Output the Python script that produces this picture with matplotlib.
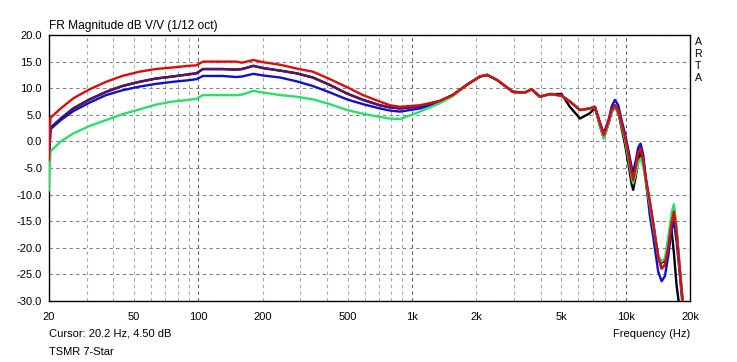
import matplotlib
matplotlib.use("Agg")
import matplotlib.pyplot as plt

plt.rcParams['font.family'] = ['Liberation Sans', 'DejaVu Sans']

# frequency points (Hz)
freq = [20, 20.3, 22.7, 26, 31, 37, 44, 53, 63, 76,
        90, 98, 105, 130, 150, 160, 181, 200, 242, 288,
        344, 413, 496, 590, 706, 788, 880, 1090,
        1350, 1550, 1800, 2080, 2250, 2510, 2970, 3380, 3630, 3970,
        4420, 5010, 5480, 6110, 6800, 7180, 7570, 7900, 8350, 8590,
        8900, 9230, 9570, 9920, 10280, 10660, 10840, 11160, 11440, 11740,
        12080, 12530, 12980, 13460, 14200, 14730, 15270, 15820, 16400, 16820,
        17300, 17820, 18280, 18580, 20000]

red = [-3.5, 4.4, 6.2, 8.1, 9.8, 11.2, 12.3, 13.1, 13.6, 13.9,
       14.2, 14.3, 15.0, 15.0, 15.0, 14.8, 15.3, 14.9, 14.4, 13.7,
       13.1, 11.7, 10.2, 8.7, 7.5, 6.8, 6.5, 6.8,
       7.6, 8.7, 10.6, 12.2, 12.5, 11.5, 9.3, 9.2, 9.8, 8.4,
       8.9, 8.6, 7.5, 5.9, 6.2, 6.5, 3.4, 1.2, 4.0, 5.9,
       6.8, 5.9, 3.4, 0.9, -2.2, -6.0, -7.3, -4.7, -2.2, -1.3,
       -3.5, -7.9, -11.4, -15.4, -21.7, -23.9, -23.2, -19.8, -15.4, -13.2,
       -16.7, -22.9, -27.9, -31.0, -45.0]

purple = [-3.5, 2.5, 4.3, 6.2, 7.9, 9.3, 10.4, 11.2, 11.8, 12.2,
          12.6, 12.8, 13.6, 13.6, 13.5, 13.6, 14.2, 13.8, 13.3, 12.8,
          12.0, 10.6, 9.0, 7.8, 6.8, 6.4, 6.2, 6.6,
          7.6, 8.7, 10.6, 12.2, 12.5, 11.5, 9.3, 9.2, 9.8, 8.4,
          8.9, 8.6, 7.5, 5.9, 6.2, 6.5, 3.4, 1.2, 4.0, 5.9,
          6.8, 5.9, 3.4, 0.9, -2.2, -6.0, -7.3, -4.7, -2.2, -1.3,
          -3.5, -7.9, -11.4, -15.4, -21.7, -23.9, -23.2, -19.8, -15.4, -13.2,
          -16.7, -22.9, -27.9, -31.0, -45.0]

blue = [-3.5, 2.3, 4.0, 5.7, 7.3, 8.7, 9.6, 10.3, 10.8, 11.2,
        11.5, 11.7, 12.3, 12.3, 12.1, 12.2, 12.7, 12.4, 12.0, 11.3,
        10.4, 9.2, 7.9, 7.0, 6.2, 5.8, 5.6, 6.2,
        7.4, 8.6, 10.6, 12.2, 12.5, 11.5, 9.3, 9.2, 9.8, 8.4,
        8.9, 8.6, 7.5, 5.9, 6.2, 6.5, 3.6, 1.5, 4.3, 6.5,
        7.8, 6.8, 4.0, 1.5, -1.5, -4.8, -5.7, -3.5, -1.2, -0.4,
        -2.5, -8.5, -14.0, -18.0, -24.5, -26.3, -25.3, -21.5, -16.5, -15.1,
        -18.8, -24.0, -29.0, -32.0, -45.0]

green = [-9.2, -1.9, 0.0, 1.5, 2.9, 4.0, 5.1, 6.0, 6.9, 7.5,
         7.8, 8.0, 8.7, 8.7, 8.7, 8.8, 9.5, 9.2, 8.7, 8.4,
         7.9, 7.0, 5.9, 5.2, 4.6, 4.3, 4.2, 5.6,
         7.2, 8.5, 10.6, 12.2, 12.6, 11.5, 9.3, 9.2, 9.8, 8.4,
         8.9, 8.6, 7.5, 5.9, 6.2, 6.4, 3.0, 0.6, 3.6, 5.8,
         6.6, 5.7, 3.0, 0.3, -3.0, -6.8, -7.9, -6.0, -4.0, -3.2,
         -4.8, -8.5, -12.0, -16.0, -21.5, -22.6, -22.0, -18.0, -13.5, -11.8,
         -16.0, -23.0, -28.0, -31.5, -45.0]

black = [-3.5, 2.5, 4.3, 6.2, 7.9, 9.3, 10.4, 11.2, 11.8, 12.2,
         12.6, 12.8, 13.6, 13.6, 13.5, 13.6, 14.2, 13.8, 13.3, 12.8,
         12.0, 10.6, 9.0, 7.8, 6.8, 6.4, 6.2, 6.6,
         7.6, 8.7, 10.6, 12.2, 12.5, 11.5, 9.3, 9.2, 9.8, 8.4,
         8.9, 8.9, 6.5, 4.3, 5.3, 6.3, 3.0, 0.6, 3.6, 5.6,
         6.5, 5.5, 2.5, -0.5, -4.0, -8.0, -9.1, -6.5, -3.5, -2.0,
         -4.0, -8.5, -12.5, -16.5, -21.5, -22.8, -22.4, -19.5, -16.7, -21.0,
         -27.0, -31.0, -35.0, -38.0, -45.0]

x_labels = [20, 50, 100, 200, 500, 1000, 2000, 5000, 10000, 20000]
x_label_text = ['20', '50', '100', '200', '500', '1k', '2k', '5k', '10k', '20k']
x_grid = [m * d for d in (10, 100, 1000) for m in range(2, 10)] + [100, 1000, 10000, 20000]
y_ticks = list(range(-30, 25, 5))

W, H = 737, 362
fig = plt.figure(figsize=(W / 100, H / 100), dpi=100)
ax = fig.add_axes([49 / W, 1 - 301 / H, (690 - 49) / W, (301 - 35) / H])
ax.set_xscale('log')

dash = (0, (3, 3))
for xv in x_grid:
    col = '#606060' if xv in (100, 1000, 10000) else '#a8a8a8'
    ax.axvline(xv, color=col, lw=0.8, ls=dash, zorder=1)
for yv in y_ticks:
    ax.axhline(yv, color='#808080', lw=0.8, ls=dash, zorder=1)

lw = 1.7
ax.plot(freq, black, color='black', lw=lw, zorder=3)
ax.plot(freq, purple, color='#5a1464', lw=lw, zorder=3)
ax.plot(freq, blue, color='#1010c8', lw=lw, zorder=3)
ax.plot(freq, green, color='#28e068', lw=lw, zorder=3)
ax.plot(freq, red, color='#dc0c0c', lw=lw, zorder=3)

ax.set_xlim(20, 20000)
ax.set_ylim(-30, 20)
ax.set_xticks(x_labels)
ax.set_xticklabels(x_label_text)
ax.xaxis.set_minor_locator(matplotlib.ticker.NullLocator())
ax.set_yticks(y_ticks)
ax.set_yticklabels(['%.1f' % v for v in y_ticks])
ax.tick_params(axis='both', length=0, labelsize=8)
ax.tick_params(axis='x', pad=8)
ax.tick_params(axis='y', pad=5)
for s in ax.spines.values():
    s.set_linewidth(1.0)
    s.set_color('black')

fig.text(49 / W, 1 - 28.5 / H, 'FR Magnitude dB V/V (1/12 oct)', fontsize=8.6,
         va='baseline', ha='left')
for i, ch in enumerate('ARTA'):
    fig.text(698 / W, 1 - (42 + i * 12) / H, ch, fontsize=7.6, ha='center', va='center')
fig.text(49 / W, 1 - 334 / H, 'Cursor: 20.2 Hz, 4.50 dB', fontsize=8, va='center', ha='left')
fig.text(49 / W, 1 - 352 / H, 'TSMR 7-Star', fontsize=8, va='center', ha='left')
fig.text(690 / W, 1 - 334 / H, 'Frequency (Hz)', fontsize=8, va='center', ha='right')

fig.savefig('out.png', dpi=100)
